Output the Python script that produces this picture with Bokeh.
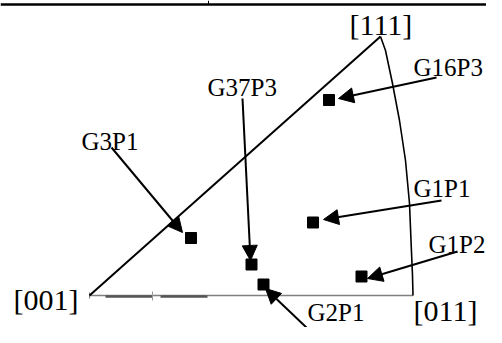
from bokeh.plotting import figure
from bokeh.models import Range1d, ColumnDataSource, Arrow, NormalHead
from bokeh.core.properties import value
from bokeh.embed import file_html
from bokeh.resources import INLINE

# ---- data (diagram coordinates, x to the right, y downward) ----
pole_names = ["[111]", "[001]", "[011]"]
pole_x = [380, 89, 412.5]
pole_y = [36, 295, 295]

pole_label_x = [349, 13, 413]
pole_label_y = [34, 308.5, 319.5]

arc_x = [380, 385, 392, 399, 405, 409, 410.5, 412, 412.5]
arc_y = [36, 50, 83, 120, 160, 203, 240, 275, 295]

point_names = ["G16P3", "G3P1", "G37P3", "G1P1", "G1P2", "G2P1"]
point_x = [328.5, 190.5, 251, 312.5, 361, 263]
point_y = [99.5, 237.5, 264, 222, 276, 284]

label_x = [413, 81, 207, 413, 428, 307]
label_y = [75, 149, 95, 196, 252, 320]

arrow_x0 = [436, 111, 242, 441, 457, 307]
arrow_y0 = [77, 147, 98, 200, 251, 328]
arrow_x1 = [338, 182, 250, 323, 367, 265]
arrow_y1 = [98, 232, 260, 219, 278, 288]

base_seg_x0 = [105, 160]
base_seg_x1 = [152, 207]

table_rule_y = 4
table_col_x = 208

FONT = value("Liberation Serif")
G_SIZE = 25
POLE_SIZE = 30
BASELINE_FIX = 0.32  # em shift of svg text relative to the alphabetic baseline

p = figure(width=486, height=327, output_backend="svg", toolbar_location=None,
           x_range=Range1d(0, 486), y_range=Range1d(327, 0), min_border=0)
p.axis.visible = False
p.grid.visible = False
p.outline_line_color = None
p.background_fill_color = "white"
p.border_fill_color = "white"

# table rule at top
p.segment(x0=[0], y0=[table_rule_y], x1=[486], y1=[table_rule_y], line_color="black", line_width=2.5)
p.segment(x0=[table_col_x], y0=[0], x1=[table_col_x], y1=[table_rule_y], line_color="black", line_width=1)

# triangle: base [001]-[011]
p.segment(x0=[pole_x[1]], y0=[pole_y[1]], x1=[pole_x[2]], y1=[pole_y[2]], line_color="#808080", line_width=1.5)
p.segment(x0=base_seg_x0, y0=[pole_y[1] + 1] * 2, x1=base_seg_x1, y1=[pole_y[1] + 1] * 2,
          line_color="#555555", line_width=2.5)
p.segment(x0=[base_seg_x1[0]], y0=[pole_y[1] - 4], x1=[base_seg_x1[0]], y1=[pole_y[1] + 5],
          line_color="#999999", line_width=1)
p.segment(x0=[pole_x[1]], y0=[pole_y[1] - 3], x1=[pole_x[1]], y1=[pole_y[1] + 3],
          line_color="#777777", line_width=1)
# left edge [001]-[111]
p.segment(x0=[pole_x[1]], y0=[pole_y[1]], x1=[pole_x[0]], y1=[pole_y[0]], line_color="black", line_width=2)
# arc [111]-[011]
p.line(arc_x, arc_y, line_color="black", line_width=1.6)

# data points
p.scatter(point_x, point_y, marker="square", size=11, fill_color="black", line_color="black")

# arrows
src = ColumnDataSource(dict(x0=arrow_x0, y0=arrow_y0, x1=arrow_x1, y1=arrow_y1))
p.add_layout(Arrow(x_start="x0", y_start="y0", x_end="x1", y_end="y1", source=src,
                   line_color="black", line_width=2,
                   end=NormalHead(size=15, fill_color="black", line_color="black", line_width=1)))

# labels
p.text(label_x, [y - BASELINE_FIX * G_SIZE for y in label_y], text=point_names, text_font=FONT,
       text_font_size=f"{G_SIZE}px", text_align="left", text_baseline="alphabetic", text_color="black")
p.text(pole_label_x, [y - BASELINE_FIX * POLE_SIZE for y in pole_label_y], text=pole_names, text_font=FONT,
       text_font_size=f"{POLE_SIZE}px", text_align="left", text_baseline="alphabetic", text_color="black")

open("out.html", "w").write(file_html(p, INLINE))
